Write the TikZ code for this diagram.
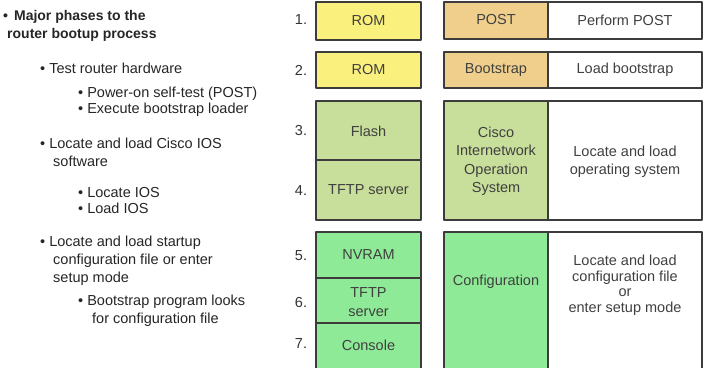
\documentclass[tikz,border=0pt]{standalone}
\usepackage{fontspec}
\setmainfont{Liberation Sans}
\definecolor{romyellow}{RGB}{250,240,125}
\definecolor{posttan}{RGB}{240,207,140}
\definecolor{iosgreen}{RGB}{200,222,155}
\definecolor{cfgmint}{RGB}{142,234,150}
\definecolor{rimgray}{RGB}{60,60,60}
\begin{document}
\begin{tikzpicture}[x=1pt,y=-1pt,line join=round,
    txt/.style={font=\fontsize{14.5}{17}\selectfont,inner sep=0pt,text=black!85},
    item/.style={txt,anchor=base west},
    cell/.style={draw=rimgray,line width=1.2pt},
    lbl/.style={txt,align=center,text=black!75},
    num/.style={txt,text=black!80}]
  \clip (0,0) rectangle (704,367);
  \fill[white] (0,0) rectangle (704,367);
  % bullet list
  \node[item,font=\bfseries\fontsize{14}{17}\selectfont] (head1) at (3,20) {\textbullet\hspace{6pt}Major phases to the};
  \node[item,font=\bfseries\fontsize{14}{17}\selectfont] (head2) at (7,38) {router bootup process};
  \node[item] (test) at (40,73) {\textbullet\ Test router hardware};
  \node[item] (post) at (78,97) {\textbullet\ Power-on self-test (POST)};
  \node[item] (boot) at (78,113) {\textbullet\ Execute bootstrap loader};
  \node[item] (ios1) at (40,148) {\textbullet\ Locate and load Cisco IOS};
  \node[item] (ios2) at (53,166) {software};
  \node[item] (find) at (78,197) {\textbullet\ Locate IOS};
  \node[item] (load) at (78,213) {\textbullet\ Load IOS};
  \node[item] (cfg1) at (40,246) {\textbullet\ Locate and load startup};
  \node[item] (cfg2) at (53,264) {configuration file or enter};
  \node[item] (cfg3) at (53,282) {setup mode};
  \node[item] (look1) at (78,305) {\textbullet\ Bootstrap program looks};
  \node[item] (look2) at (92,323) {for configuration file};
  % sources
  \filldraw[cell,fill=romyellow] (316,2) rectangle (421,40);
  \filldraw[cell,fill=romyellow] (316,52) rectangle (421,88);
  \filldraw[cell,fill=iosgreen] (316,101) rectangle (421,220);
  \draw[cell] (316,160) -- (421,160);
  \filldraw[cell,fill=cfgmint] (316,232) rectangle (421,380);
  \draw[cell] (316,278) -- (421,278);
  \draw[cell] (316,323) -- (421,323);
  % phases
  \filldraw[cell,fill=posttan] (444,2) rectangle (548,39);
  \filldraw[cell,fill=white] (548,2) rectangle (702,39);
  \filldraw[cell,fill=posttan] (444,52) rectangle (548,88);
  \filldraw[cell,fill=white] (548,52) rectangle (702,88);
  \filldraw[cell,fill=iosgreen] (444,101) rectangle (548,220);
  \filldraw[cell,fill=white] (548,101) rectangle (702,220);
  \filldraw[cell,fill=cfgmint] (444,232) rectangle (548,380);
  \filldraw[cell,fill=white] (548,232) rectangle (702,380);
  % step numbers
  \node[num] (n1) at (301,20) {1.};
  \node[num] (n2) at (301,70) {2.};
  \node[num] (n3) at (301,131) {3.};
  \node[num] (n4) at (301,191) {4.};
  \node[num] (n5) at (301,256) {5.};
  \node[num] (n6) at (301,303) {6.};
  \node[num] (n7) at (301,344) {7.};
  % cell texts
  \node[lbl] (rom1) at (368.5,21) {ROM};
  \node[lbl] (rom2) at (368.5,70) {ROM};
  \node[lbl] (flash) at (368.5,131) {Flash};
  \node[lbl] (tftp1) at (368.5,190) {TFTP server};
  \node[lbl] (nvram) at (368.5,255) {NVRAM};
  \node[lbl,font=\fontsize{14.5}{19}\selectfont] (tftp2) at (368.5,302) {TFTP\\server};
  \node[lbl] (cons) at (368.5,345) {Console};
  \node[lbl] (postc) at (496,20) {POST};
  \node[lbl] (bootc) at (496,70) {Bootstrap};
  \node[lbl,font=\fontsize{14.5}{18.5}\selectfont] (iosc) at (496,161) {Cisco\\Internetwork\\Operation\\System};
  \node[lbl] (cfgc) at (496,282) {Configuration};
  \node[lbl] (postd) at (625,20) {Perform POST};
  \node[lbl] (bootd) at (625,70) {Load bootstrap};
  \node[lbl,font=\fontsize{14.5}{18}\selectfont] (iosd) at (625,162) {Locate and load\\operating system};
  \node[lbl,font=\fontsize{14.5}{15.5}\selectfont] (cfgd) at (625,285) {Locate and load\\configuration file\\or\\enter setup mode};
\end{tikzpicture}
\end{document}
